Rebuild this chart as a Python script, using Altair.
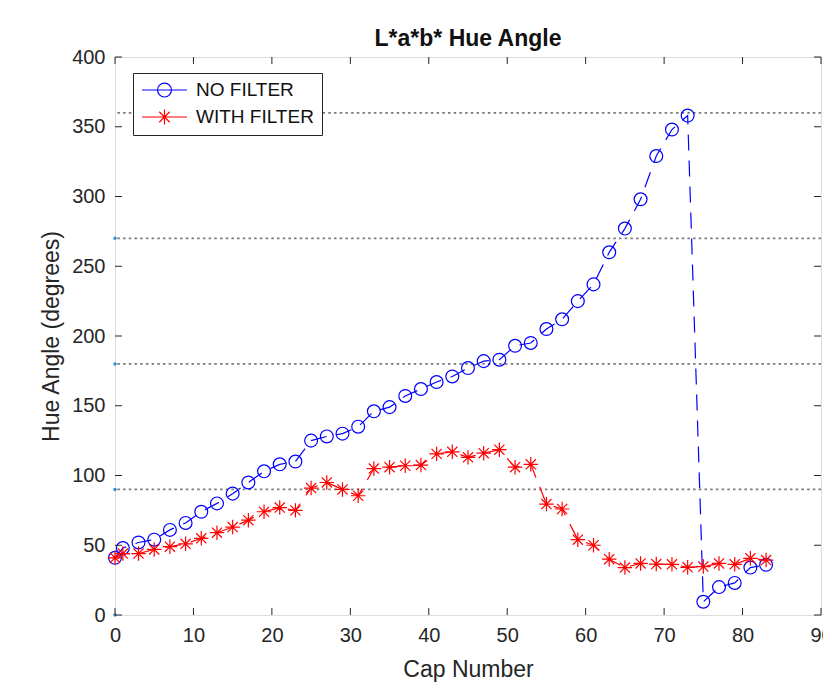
import altair as alt
import pandas as pd

caps = [0, 1, 3, 5, 7, 9, 11, 13, 15, 17, 19, 21, 23, 25, 27, 29, 31, 33, 35, 37,
        39, 41, 43, 45, 47, 49, 51, 53, 55, 57, 59, 61, 63, 65, 67, 69, 71, 73, 75, 77,
        79, 81, 83]
no_filter = [41, 48, 52, 54, 61, 66, 74, 80, 87, 95, 103, 108, 110, 125, 128, 130, 135,
             146, 149, 157, 162, 167, 171, 177, 182, 183, 193, 195, 205, 212, 225, 237,
             260, 277, 298, 329, 348, 358, 9.5, 20, 23, 34, 36]
with_filter = [41, 44, 44, 47, 49, 51, 55, 59, 63, 68, 74, 77, 75, 91, 95, 90, 85.5, 105,
               106, 107, 107.5, 115.5, 117, 113, 116, 118.5, 106, 108, 79.5, 76, 54, 50,
               40, 34, 37, 36.5, 36.3, 34.2, 34.7, 37, 36.3, 40.6, 39.4]
series_names = ["NO FILTER", "WITH FILTER"]
ref_lines = [90, 180, 270, 360]
ref_dots = [0, 90, 180, 270]
x_ticks = list(range(0, 91, 10))
y_ticks = list(range(0, 401, 50))

BLUE = "#0000FF"
RED = "#FF0000"
AX = "#262626"
FONT = "Liberation Sans"

STAR_PATH = "M-1,0L1,0M0,-1L0,1M-0.7,-0.7L0.7,0.7M-0.7,0.7L0.7,-0.7"
LEG_CIRCLE = "M-1,0L1,0M0.31,0A0.31,0.31 0 1,1 -0.31,0A0.31,0.31 0 1,1 0.31,0"
LEG_STAR = ("M-1,0L1,0M0,-0.33L0,0.33M-0.233,-0.233L0.233,0.233"
            "M-0.233,0.233L0.233,-0.233")

blue_df = pd.DataFrame({"cap": caps, "hue": no_filter})
red_df = pd.DataFrame({"cap": caps, "hue": with_filter})
long_df = pd.concat([blue_df.assign(series=series_names[0]),
                     red_df.assign(series=series_names[1])])

W, H = 706, 558
xs = alt.Scale(domain=[0, 90], nice=False)
ys = alt.Scale(domain=[0, 400], nice=False)

x_enc = alt.X("cap:Q", scale=xs, axis=alt.Axis(
    values=x_ticks, title="Cap Number", tickSize=0, domain=False, grid=False,
    labelPadding=10, titlePadding=13, labelFontSize=20, titleFontSize=23,
    labelColor=AX, titleColor=AX, labelFont=FONT, titleFont=FONT,
    titleFontWeight="normal", labelFlush=False))
y_enc = alt.Y("hue:Q", scale=ys, axis=alt.Axis(
    values=y_ticks, title="Hue Angle (degrees)", tickSize=0, domain=False, grid=False,
    labelPadding=10, titlePadding=8, labelFontSize=20, titleFontSize=23,
    labelColor=AX, titleColor=AX, labelFont=FONT, titleFont=FONT,
    titleFontWeight="normal", labelFlush=False))

ref_df = pd.DataFrame({"v": ref_lines})
ref_rules = alt.Chart(ref_df).mark_rule(
    color="#7a7a7a", strokeDash=[2.5, 3.2], strokeWidth=1.8
).encode(y=alt.Y("v:Q", scale=ys))

dots_df = pd.DataFrame({"v": ref_dots, "x0": [0] * len(ref_dots)})
ref_pts = alt.Chart(dots_df).mark_point(
    filled=True, color="#2a8fd8", size=12, opacity=1
).encode(x=alt.X("x0:Q", scale=xs), y=alt.Y("v:Q", scale=ys))

blue_line = alt.Chart(blue_df).mark_line(
    color=BLUE, strokeDash=[16, 10], strokeWidth=1.2
).encode(x=x_enc, y=y_enc)
red_line = alt.Chart(red_df).mark_line(
    color=RED, strokeDash=[16, 10], strokeWidth=1.2
).encode(x=alt.X("cap:Q", scale=xs), y=alt.Y("hue:Q", scale=ys))

blue_pts = alt.Chart(blue_df).mark_point(
    shape="circle", filled=False, color=BLUE, size=165, strokeWidth=1.2, opacity=1
).encode(x=alt.X("cap:Q", scale=xs), y=alt.Y("hue:Q", scale=ys))
red_pts = alt.Chart(red_df).mark_point(
    shape=STAR_PATH, filled=False, color=RED, size=210, strokeWidth=1.2, opacity=1
).encode(x=alt.X("cap:Q", scale=xs), y=alt.Y("hue:Q", scale=ys))

legend_layer = alt.Chart(long_df).transform_filter("datum.cap < 0").mark_point(
    filled=False, size=2025, strokeWidth=1.2, opacity=1
).encode(
    x=alt.X("cap:Q", scale=xs),
    y=alt.Y("hue:Q", scale=ys),
    color=alt.Color("series:N", scale=alt.Scale(domain=series_names, range=[BLUE, RED]),
                    legend=alt.Legend(
                        title=None, orient="none", legendX=18, legendY=16,
                        padding=8, strokeColor=AX, fillColor="white",
                        labelFontSize=19, labelFont=FONT, labelColor="#111",
                        symbolSize=2025, clipHeight=18, rowPadding=8, labelOffset=8,
                        symbolStrokeWidth=1.2, symbolFillColor="transparent",
                        cornerRadius=0)),
    shape=alt.Shape("series:N", scale=alt.Scale(domain=series_names,
                                                range=[LEG_CIRCLE, LEG_STAR]),
                    legend=alt.Legend(title=None, orient="none", legendX=18, legendY=16)),
)

tx_df = pd.DataFrame({"t": x_ticks})
ty_df = pd.DataFrame({"t": y_ticks})
TL = 7
tick_x_bottom = alt.Chart(tx_df).mark_rule(color=AX, strokeWidth=1).encode(
    x=alt.X("t:Q", scale=xs), y=alt.value(H), y2=alt.value(H - TL))
tick_x_top = alt.Chart(tx_df).mark_rule(color=AX, strokeWidth=1).encode(
    x=alt.X("t:Q", scale=xs), y=alt.value(0), y2=alt.value(TL))
tick_y_left = alt.Chart(ty_df).mark_rule(color=AX, strokeWidth=1).encode(
    y=alt.Y("t:Q", scale=ys), x=alt.value(0), x2=alt.value(TL))
tick_y_right = alt.Chart(ty_df).mark_rule(color=AX, strokeWidth=1).encode(
    y=alt.Y("t:Q", scale=ys), x=alt.value(W), x2=alt.value(W - TL))

chart = alt.layer(
    blue_line, ref_rules, ref_pts, red_line, blue_pts, red_pts,
    tick_x_bottom, tick_x_top, tick_y_left, tick_y_right, legend_layer
).resolve_scale(color="independent", shape="independent").properties(
    width=W, height=H,
    autosize=alt.AutoSizeParams(type="none"),
    padding={"left": 115, "top": 57, "right": 2, "bottom": 82},
    title=alt.TitleParams("L*a*b* Hue Angle", fontSize=23, fontWeight="bold",
                          font=FONT, color="#111", offset=7, dy=11, anchor="middle"),
).configure_view(stroke=AX, strokeWidth=1.2).configure(background="white")

chart.save("out.html", embed_options={"renderer": "svg", "actions": False})
